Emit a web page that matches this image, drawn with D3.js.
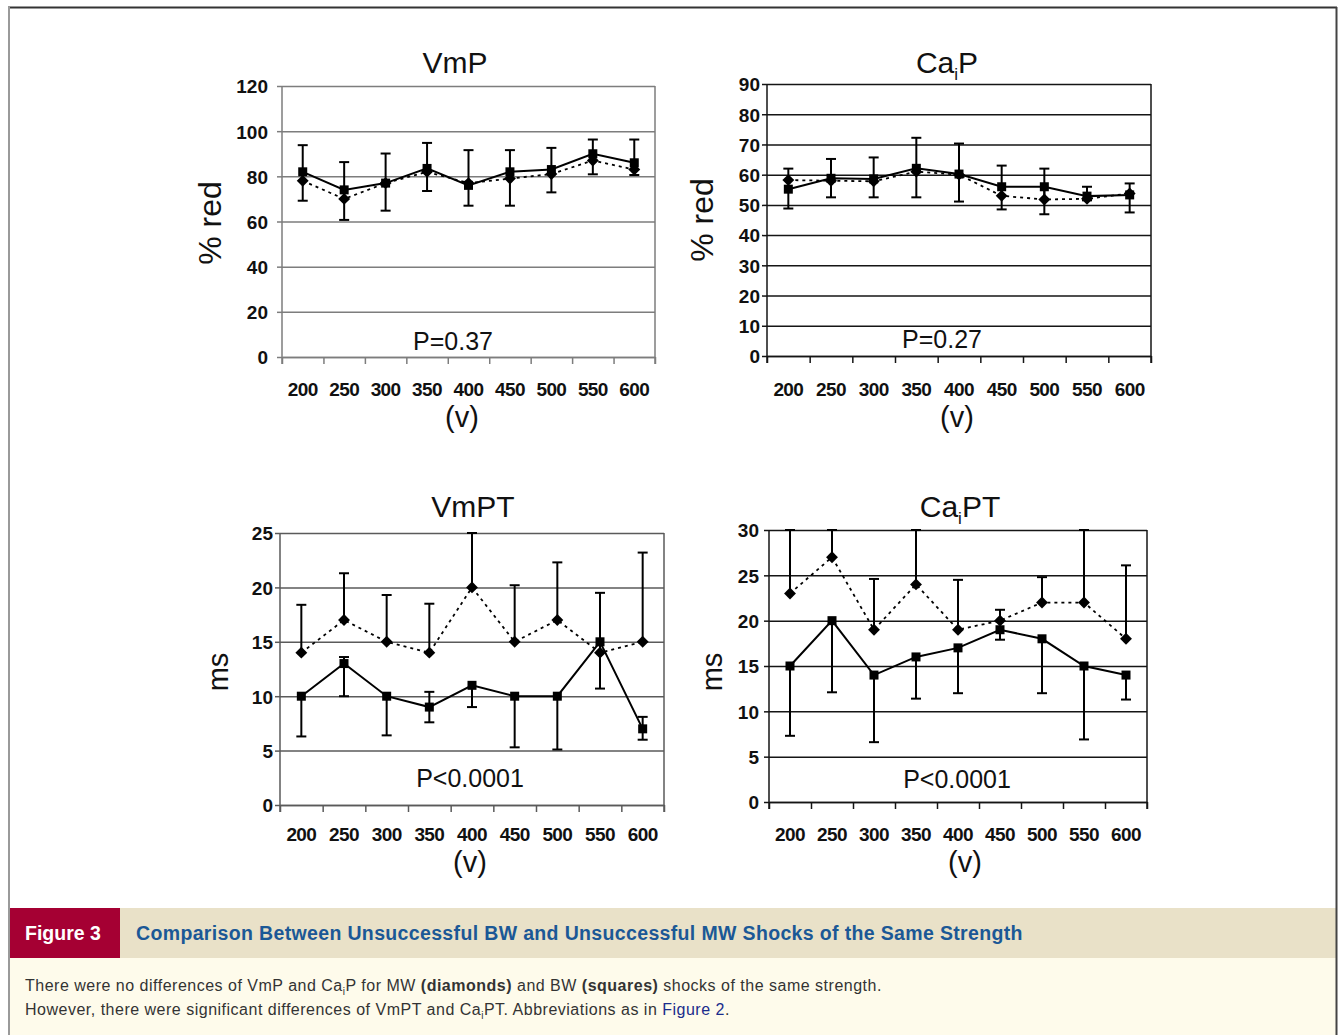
<!DOCTYPE html>
<html>
<head>
<meta charset="utf-8">
<script src="https://cdn.jsdelivr.net/npm/d3@7"></script>
<style>
  body { margin: 0; background: #fff; }
  svg { display: block; }
</style>
</head>
<body>
<div id="chart"></div>
<script>
// shock strengths (v)
const voltages = ["200", "250", "300", "350", "400", "450", "500", "550", "600"];

// VmP (% red): MW = diamonds (dashed), BW = squares (solid)
const vmpMW   = [78, 70, 77, 82, 77, 79, 81, 87, 83];
const vmpBW   = [82, 74, 77, 83.5, 76, 82, 83, 90, 86];
const vmpMWHi = [93.8, 86.3, 90.1, 94.8, 91.6, 91.6, 92.6, 96.3, 96.3];
const vmpBWLo = [69.2, 60.7, 64.8, 73.5, 67, 67, 72.9, 80.9, 80.6];

// CaiP (% red)
const caipMW   = [58.2, 58, 57.8, 61, 60, 53, 51.8, 52, 53.8];
const caipBW   = [55.2, 58.8, 58.6, 62.1, 60.2, 56, 56, 52.9, 53.3];
const caipMWHi = [62, 65.2, 65.7, 72.2, 70.3, 63, 62, 56, 57.1];
const caipBWLo = [48.8, 52.5, 52.5, 52.5, 51.1, 48.5, 46.9, 51.5, 47.5];

// VmPT (ms)
const vmptMW   = [14, 17, 15, 14, 20, 15, 17, 14, 15];
const vmptBW   = [10, 13, 10, 9, 11, 10, 10, 15, 7];
const vmptMWHi = [18.4, 21.3, 19.3, 18.5, 25, 20.2, 22.3, 19.5, 23.2];
const vmptBWLo = [6.3, 10, 6.4, 7.6, 9, 5.3, 5.1, 10.7, 6];
const vmptBWHi = [null, 13.6, null, 10.4, null, null, null, null, 8.1];

// CaiPT (ms)
const caiptMW   = [23, 27, 19, 24, 19, 20, 22, 22, 18];
const caiptBW   = [15, 20, 14, 16, 17, 19, 18, 15, 14];
const caiptMWHi = [30, 30, 24.6, 30, 24.5, 21.2, 24.8, 30, 26.1];
const caiptBWLo = [7.3, 12.1, 6.6, 11.4, 12, 17.9, 12, 6.9, 11.3];

const pLabels = ["P=0.37", "P=0.27", "P<0.0001", "P<0.0001"];

//Panel layout
let panels = [
  { title: [{t: "VmP"}], yLabel: "% red", yLabSize: 32, max: 120, step: 20,
    left: 282, right: 655, top: 86, bottom: 357, grid: "#7d7d7d", pad: 9,
    titleX: 455, titleY: 73, yLabX: 210, yLabY: 223, pX: 453, pY: 350, labY: 396, vX: 462, vY: 427,
    mw: vmpMW, bw: vmpBW, mwHi: vmpMWHi, bwLo: vmpBWLo, bwHi: null, p: pLabels[0] },
  { title: [{t: "Ca"}, {t: "i", sub: true}, {t: "P"}], yLabel: "% red", yLabSize: 32, max: 90, step: 10,
    left: 767, right: 1151, top: 84, bottom: 356, grid: "#151515", pad: 2,
    titleX: 947, titleY: 73, yLabX: 702, yLabY: 220, pX: 942, pY: 348, labY: 396, vX: 957, vY: 427,
    mw: caipMW, bw: caipBW, mwHi: caipMWHi, bwLo: caipBWLo, bwHi: null, p: pLabels[1] },
  { title: [{t: "VmPT"}], yLabel: "ms", yLabSize: 29, max: 25, step: 5,
    left: 280, right: 664, top: 533, bottom: 805, grid: "#5a5a5a", pad: 2,
    titleX: 473, titleY: 517, yLabX: 218, yLabY: 672, pX: 470, pY: 787, labY: 841, vX: 470, vY: 872,
    mw: vmptMW, bw: vmptBW, mwHi: vmptMWHi, bwLo: vmptBWLo, bwHi: vmptBWHi, p: pLabels[2] },
  { title: [{t: "Ca"}, {t: "i", sub: true}, {t: "PT"}], yLabel: "ms", yLabSize: 29, max: 30, step: 5,
    left: 769, right: 1147, top: 530, bottom: 802, grid: "#151515", pad: 5,
    titleX: 960, titleY: 517, yLabX: 712, yLabY: 672, pX: 957, pY: 788, labY: 841, vX: 965, vY: 872,
    mw: caiptMW, bw: caiptBW, mwHi: caiptMWHi, bwLo: caiptBWLo, bwHi: null, p: pLabels[3] }
];

let svg = d3.select("#chart")
    .append("svg")
    .attr("width", 1341)
    .attr("height", 1035);

svg.append("rect").attr("width", 1341).attr("height", 1035).attr("fill", "#fff");

const font = "'Liberation Sans', Arial, sans-serif";

//Draw one small chart
function drawPanel(p) {
    let x = d3.scaleBand().domain(voltages).range([p.left, p.right]);
    let y = d3.scaleLinear().domain([0, p.max]).range([p.bottom, p.top]);
    let edge = d3.scaleLinear().domain([0, voltages.length]).range([p.left, p.right]);
    let yTicks = d3.range(0, p.max + p.step / 2, p.step);
    let cx = d => x(d) + x.bandwidth() / 2;

    let g = svg.append("g");

    // gridlines
    g.append("g")
        .attr("transform", "translate(" + p.left + ",0)")
        .call(d3.axisRight(y).tickValues(yTicks).tickSize(p.right - p.left).tickFormat(""))
        .call(a => a.select(".domain").remove())
        .selectAll("line").attr("stroke", p.grid).attr("stroke-width", 1.5);

    // right border
    g.append("line")
        .attr("x1", p.right).attr("x2", p.right)
        .attr("y1", p.top).attr("y2", p.bottom + 7)
        .attr("stroke", p.grid).attr("stroke-width", 1.5);

    // y axis
    let ya = g.append("g")
        .attr("transform", "translate(" + p.left + ",0)")
        .call(d3.axisLeft(y).tickValues(yTicks).tickSize(5).tickPadding(p.pad));
    ya.selectAll("line, path").attr("stroke", p.grid).attr("stroke-width", 1.5);
    ya.select(".domain").attr("d", "M0," + p.top + "V" + (p.bottom + 7));
    ya.selectAll("text")
        .attr("font-family", font).attr("font-weight", "bold")
        .attr("font-size", 19).attr("fill", "#111").attr("dy", "0.36em");

    // x ticks at band edges
    let xa = g.append("g")
        .attr("transform", "translate(0," + p.bottom + ")")
        .call(d3.axisBottom(edge).tickValues(d3.range(0, voltages.length + 1)).tickSize(7).tickSizeOuter(0).tickFormat(""));
    xa.selectAll("line, path").attr("stroke", p.grid).attr("stroke-width", 1.5);

    // x labels
    let xl = g.append("g")
        .attr("transform", "translate(0," + p.labY + ")")
        .call(d3.axisBottom(x).tickSize(0).tickPadding(0));
    xl.select(".domain").remove();
    xl.selectAll("text")
        .attr("dy", 0)
        .attr("font-family", font).attr("font-weight", "bold")
        .attr("font-size", 19).attr("letter-spacing", -0.6).attr("fill", "#111");

    // error bars: MW upward, BW downward
    let bars = [];
    voltages.forEach(function(v, i) {
        bars.push({v: v, from: p.mw[i], to: p.mwHi[i]});
        bars.push({v: v, from: p.bw[i], to: p.bwLo[i]});
        if (p.bwHi && p.bwHi[i] != null) bars.push({v: v, from: p.bw[i], to: p.bwHi[i]});
    });
    g.selectAll("line.err")
        .data(bars).enter().append("line")
        .attr("class", "err")
        .attr("x1", d => cx(d.v)).attr("x2", d => cx(d.v))
        .attr("y1", d => y(d.from)).attr("y2", d => y(d.to))
        .attr("stroke", "#000").attr("stroke-width", 2);
    g.selectAll("line.cap")
        .data(bars).enter().append("line")
        .attr("class", "cap")
        .attr("x1", d => cx(d.v) - 5).attr("x2", d => cx(d.v) + 5)
        .attr("y1", d => y(d.to)).attr("y2", d => y(d.to))
        .attr("stroke", "#000").attr("stroke-width", 2);

    // MW dashed line + diamonds
    let mwLine = d3.line().x((d, i) => cx(voltages[i])).y(d => y(d));
    g.append("path")
        .attr("d", mwLine(p.mw))
        .attr("fill", "none").attr("stroke", "#000")
        .attr("stroke-width", 1.8).style("stroke-dasharray", "3, 4");

    g.selectAll("path.diamond")
        .data(p.mw).enter().append("path")
        .attr("class", "diamond")
        .attr("d", d3.symbol().type(d3.symbolDiamond2).size(90))
        .attr("transform", (d, i) => "translate(" + cx(voltages[i]) + "," + y(d) + ")")
        .attr("fill", "#000");

    // BW solid line + squares
    let bwLine = d3.line().x((d, i) => cx(voltages[i])).y(d => y(d));
    g.append("path")
        .attr("d", bwLine(p.bw))
        .attr("fill", "none").attr("stroke", "#000").attr("stroke-width", 2);

    g.selectAll("rect.square")
        .data(p.bw).enter().append("rect")
        .attr("class", "square")
        .attr("x", (d, i) => cx(voltages[i]) - 4.5)
        .attr("y", d => y(d) - 4.5)
        .attr("width", 9).attr("height", 9)
        .attr("fill", "#000");

    // title
    let t = g.append("text")
        .attr("x", p.titleX).attr("y", p.titleY)
        .attr("text-anchor", "middle")
        .attr("font-family", font).attr("font-size", 30).attr("fill", "#111");
    p.title.forEach(function(part, i) {
        let prevSub = i > 0 && p.title[i - 1].sub;
        t.append("tspan")
            .attr("font-size", part.sub ? 17 : 30)
            .attr("dy", part.sub ? 7 : (prevSub ? -7 : 0))
            .text(part.t);
    });

    // y label
    g.append("text")
        .attr("transform", "translate(" + p.yLabX + "," + p.yLabY + ") rotate(-90)")
        .attr("text-anchor", "middle").attr("dy", "0.35em")
        .attr("font-family", font).attr("font-size", p.yLabSize).attr("fill", "#111")
        .text(p.yLabel);

    // P value
    g.append("text")
        .attr("x", p.pX).attr("y", p.pY)
        .attr("text-anchor", "middle")
        .attr("font-family", font).attr("font-size", 25).attr("fill", "#111")
        .text(p.p);

    // (v)
    g.append("text")
        .attr("x", p.vX).attr("y", p.vY)
        .attr("text-anchor", "middle")
        .attr("font-family", font).attr("font-size", 29).attr("fill", "#111")
        .text("(v)");
}

panels.forEach(drawPanel);

//Caption area
svg.append("rect").attr("x", 9).attr("y", 958).attr("width", 1327).attr("height", 77).attr("fill", "#fefbeb");
svg.append("rect").attr("x", 9).attr("y", 908).attr("width", 1327).attr("height", 50).attr("fill", "#e9e1c8");
svg.append("rect").attr("x", 9).attr("y", 908).attr("width", 111).attr("height", 50).attr("fill", "#a50033");

svg.append("text")
    .attr("x", 25).attr("y", 940)
    .attr("font-family", font).attr("font-weight", "bold").attr("font-size", 19.5)
    .attr("fill", "#fff")
    .text("Figure 3");

svg.append("text")
    .attr("x", 136).attr("y", 940)
    .attr("font-family", font).attr("font-weight", "bold").attr("font-size", 19.5)
    .attr("letter-spacing", 0.35)
    .attr("fill", "#1b5896")
    .text("Comparison Between Unsuccessful BW and Unsuccessful MW Shocks of the Same Strength");

function captionLine(yPos, parts) {
    let t = svg.append("text")
        .attr("x", 25).attr("y", yPos)
        .attr("font-family", font).attr("font-size", 16)
        .attr("letter-spacing", 0.5).attr("fill", "#333");
    parts.forEach(function(part) {
        let s = t.append("tspan").text(part.t);
        if (part.b) s.attr("font-weight", "bold");
        if (part.sub) s.attr("font-size", 10).attr("dy", 4);
        if (part.after) s.attr("dy", -4);
        if (part.link) s.attr("fill", "#1a2c8c");
    });
}

captionLine(991, [
    {t: "There were no differences of VmP and Ca"}, {t: "i", sub: true}, {t: "P for MW ", after: true},
    {t: "(diamonds)", b: true}, {t: " and BW "}, {t: "(squares)", b: true},
    {t: " shocks of the same strength."}
]);
captionLine(1015, [
    {t: "However, there were significant differences of VmPT and Ca"}, {t: "i", sub: true},
    {t: "PT. Abbreviations as in ", after: true}, {t: "Figure 2", link: true}, {t: "."}
]);

//Page frame
svg.append("line").attr("x1", 8).attr("x2", 1337).attr("y1", 7.5).attr("y2", 7.5).attr("stroke", "#333").attr("stroke-width", 2);
svg.append("line").attr("x1", 9).attr("x2", 9).attr("y1", 7).attr("y2", 1035).attr("stroke", "#9a9a9a").attr("stroke-width", 2);
svg.append("line").attr("x1", 1336.5).attr("x2", 1336.5).attr("y1", 7).attr("y2", 1035).attr("stroke", "#444").attr("stroke-width", 2);
</script>
</body>
</html>
